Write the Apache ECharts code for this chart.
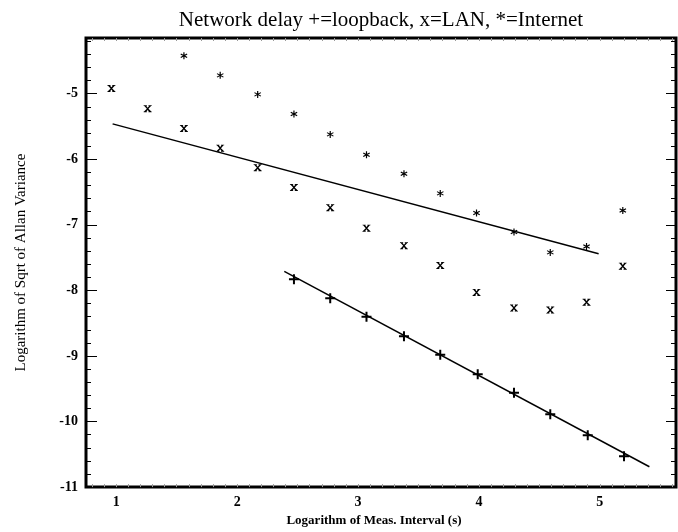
<!DOCTYPE html>
<html>
<head>
<meta charset="utf-8">
<title>Network delay</title>
<script src="https://cdn.jsdelivr.net/npm/echarts@6/dist/echarts.min.js"></script>
<style>
  html, body { margin: 0; padding: 0; background: #fff; }
  #chart { width: 678px; height: 532px; }
</style>
</head>
<body>
<div id="chart"></div>
<script>
// x = log of measurement interval, y = log of sqrt of Allan variance
var lanX = [0.96, 1.26, 1.56, 1.86, 2.17, 2.47, 2.77, 3.07, 3.38, 3.68, 3.98, 4.29, 4.59, 4.89, 5.19];
var lanY = [-4.92, -5.23, -5.53, -5.83, -6.13, -6.43, -6.74, -7.05, -7.32, -7.62, -8.03, -8.27, -8.30, -8.18, -7.63];
var netX = [1.56, 1.86, 2.17, 2.47, 2.77, 3.07, 3.38, 3.68, 3.98, 4.29, 4.59, 4.89, 5.19];
var netY = [-4.42, -4.72, -5.01, -5.31, -5.62, -5.93, -6.22, -6.52, -6.82, -7.11, -7.42, -7.33, -6.78];
var loopX = [2.47, 2.77, 3.07, 3.38, 3.68, 3.99, 4.29, 4.59, 4.90, 5.20];
var loopY = [-7.83, -8.12, -8.40, -8.70, -8.98, -9.28, -9.56, -9.89, -10.21, -10.53];
// straight fit lines (end points)
var fitUpperX = [0.97, 4.99];
var fitUpperY = [-5.46, -7.44];
var fitLowerX = [2.39, 5.41];
var fitLowerY = [-7.71, -10.69];
var xTickLabels = [1, 2, 3, 4, 5];

function pairs(xs, ys) {
  return xs.map(function (x, i) { return [x, ys[i]]; });
}

// small dotted ticks every 0.1 along the x edges
var xMinor = [];
for (var t = 8; t <= 56; t++) xMinor.push(t / 10);

var plusPath = 'path://M4,0h2v4h4v2h-4v4h-2v-4h-4v-2h4z';
var xPath = 'path://M0,0L4,0L4,1L3.3,1L5,3.4L6.7,1L6,1L6,0L10,0L10,1L9.2,1L6,5L9.6,9L10,9L10,10L6,10L6,9L6.6,9L5,6.6L3.4,9L4,9L4,10L0,10L0,9L0.5,9L4,5L0.8,1L0,1Z';
var starPath = 'path://M4.2,0L5.8,0L5.8,10L4.2,10Z' +
  'M0.27,6.81L8.93,1.81L9.73,3.19L1.07,8.19Z' +
  'M1.07,1.81L9.73,6.81L8.93,8.19L0.27,3.19Z';

var serif = '"Liberation Serif", "DejaVu Serif", serif';

var chart = echarts.init(document.getElementById('chart'));
chart.setOption({
  animation: false,
  backgroundColor: '#fff',
  title: {
    text: 'Network delay +=loopback, x=LAN, *=Internet',
    left: 376,
    top: 5,
    textAlign: 'center',
    textStyle: { fontFamily: serif, fontWeight: 'normal', fontSize: 21, color: '#000' }
  },
  grid: {
    left: 86, right: 2, top: 38, bottom: 40,
    containLabel: false,
    show: true,
    borderColor: '#000',
    borderWidth: 3
  },
  xAxis: [{
    type: 'value',
    min: 0.75,
    max: 5.63,
    position: 'bottom',
    axisLine: { show: false },
    splitLine: { show: false },
    axisTick: {
      inside: true, length: 3, customValues: xMinor,
      lineStyle: { color: '#999', width: 1 }
    },
    axisLabel: {
      customValues: xTickLabels,
      margin: 8,
      color: '#000',
      fontFamily: serif, fontWeight: 'bold', fontSize: 14
    },
    name: 'Logarithm of Meas. Interval (s)',
    nameLocation: 'middle',
    nameGap: 22,
    nameTextStyle: {
      fontFamily: serif, fontWeight: 'bold', fontSize: 13, color: '#000',
      padding: [0, 14, 0, 0]
    }
  }, {
    type: 'value',
    min: 0.75,
    max: 5.63,
    position: 'top',
    axisLine: { show: false },
    splitLine: { show: false },
    axisLabel: { show: false },
    axisTick: {
      inside: true, length: 3, customValues: xMinor,
      lineStyle: { color: '#999', width: 1 }
    }
  }],
  yAxis: [{
    type: 'value',
    min: -11,
    max: -4.15,
    interval: 1,
    position: 'left',
    axisLine: { show: false },
    splitLine: { show: false },
    axisTick: { inside: true, length: 11, lineStyle: { color: '#000', width: 1 } },
    minorTick: { show: true, splitNumber: 5, length: 5, lineStyle: { color: '#000', width: 1 } },
    axisLabel: {
      margin: 8,
      showMaxLabel: false,
      color: '#000',
      fontFamily: serif, fontWeight: 'bold', fontSize: 14
    },
    name: 'Logarithm of Sqrt of Allan Variance',
    nameLocation: 'middle',
    nameGap: 57,
    nameTextStyle: { fontFamily: serif, fontSize: 15, color: '#000' }
  }, {
    type: 'value',
    min: -11,
    max: -4.15,
    interval: 1,
    position: 'right',
    axisLine: { show: false },
    splitLine: { show: false },
    axisLabel: { show: false },
    axisTick: { inside: true, length: 10, lineStyle: { color: '#000', width: 1 } },
    minorTick: { show: true, splitNumber: 5, length: 5, lineStyle: { color: '#000', width: 1 } }
  }],
  series: [{
    name: 'fit upper',
    type: 'line',
    data: pairs(fitUpperX, fitUpperY),
    symbol: 'none',
    silent: true,
    lineStyle: { color: '#000', width: 1.5 }
  }, {
    name: 'fit lower',
    type: 'line',
    data: pairs(fitLowerX, fitLowerY),
    symbol: 'none',
    silent: true,
    lineStyle: { color: '#000', width: 1.5 }
  }, {
    name: 'loopback',
    type: 'scatter',
    data: pairs(loopX, loopY),
    symbol: plusPath,
    symbolSize: 10,
    itemStyle: { color: '#000', opacity: 1 }
  }, {
    name: 'LAN',
    type: 'scatter',
    data: pairs(lanX, lanY),
    symbol: xPath,
    symbolSize: [8, 7],
    itemStyle: { color: '#000', opacity: 1 }
  }, {
    name: 'Internet',
    type: 'scatter',
    data: pairs(netX, netY),
    symbol: starPath,
    symbolSize: 7,
    itemStyle: { color: '#000', opacity: 1 }
  }]
});
</script>
</body>
</html>
